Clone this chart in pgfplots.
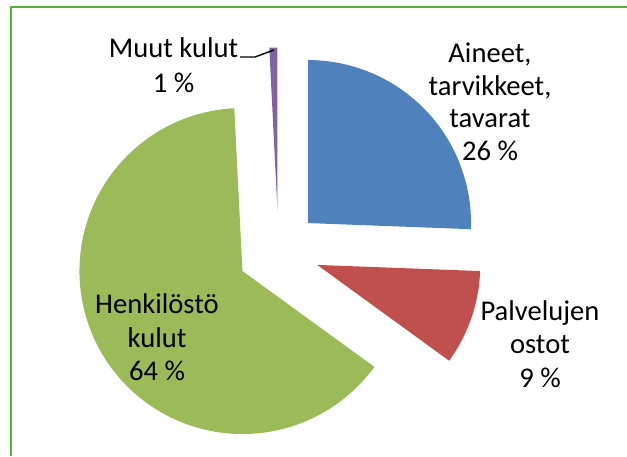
\documentclass[border=0pt]{standalone}
\usepackage{pgfplots}
\pgfplotsset{compat=1.18}
\usepackage{fontspec}
\setmainfont{Carlito}
\definecolor{cA}{RGB}{79,129,189}
\definecolor{cP}{RGB}{192,80,77}
\definecolor{cH}{RGB}{155,187,89}
\definecolor{cM}{RGB}{128,100,162}
\definecolor{frame}{RGB}{86,178,60}
\tikzset{lbl/.style={font=\fontsize{14.3}{17}\selectfont, inner sep=0pt, anchor=base, text=black}}
% shares of the pie (percent)
\def\pA{25.6}% Aineet, tarvikkeet, tavarat
\def\pP{9.4}%  Palvelujen ostot
\def\pH{64.2}% Henkilostokulut
\def\pM{0.8}%  Muut kulut
\def\cx{278.5}\def\cy{251.5}\def\ex{41}\def\rr{163}
\begin{document}
\begin{tikzpicture}
\pgfmathsetmacro{\aA}{0}
\pgfmathsetmacro{\bA}{\aA+3.6*\pA}
\pgfmathsetmacro{\aP}{\bA}
\pgfmathsetmacro{\bP}{\aP+3.6*\pP}
\pgfmathsetmacro{\aH}{\bP}
\pgfmathsetmacro{\bH}{\aH+3.6*\pH}
\pgfmathsetmacro{\aM}{\bH}
\pgfmathsetmacro{\bM}{\aM+3.6*\pM}
\pgfmathsetmacro{\vxA}{\cx+\ex*sin((\aA+\bA)/2)}
\pgfmathsetmacro{\vyA}{\cy-\ex*cos((\aA+\bA)/2)}
\pgfmathsetmacro{\vxP}{\cx+\ex*sin((\aP+\bP)/2)}
\pgfmathsetmacro{\vyP}{\cy-\ex*cos((\aP+\bP)/2)}
\pgfmathsetmacro{\vxH}{\cx+\ex*sin((\aH+\bH)/2)}
\pgfmathsetmacro{\vyH}{\cy-\ex*cos((\aH+\bH)/2)}
\pgfmathsetmacro{\vxM}{\cx+\ex*sin((\aM+\bM)/2)}
\pgfmathsetmacro{\vyM}{\cy-\ex*cos((\aM+\bM)/2)}
\begin{axis}[
  scale only axis, width=313.5pt, height=228pt,
  xmin=0, xmax=627, ymin=0, ymax=456, y dir=reverse,
  hide axis, clip=false,
]
\addplot[fill=cA, draw=none, domain=\aA:\bA, samples=90, variable=\t]
  ({\vxA+\rr*sin(\t)}, {\vyA-\rr*cos(\t)}) -- (axis cs:\vxA,\vyA) -- cycle;
\addplot[fill=cP, draw=none, domain=\aP:\bP, samples=60, variable=\t]
  ({\vxP+\rr*sin(\t)}, {\vyP-\rr*cos(\t)}) -- (axis cs:\vxP,\vyP) -- cycle;
\addplot[fill=cH, draw=none, domain=\aH:\bH, samples=180, variable=\t]
  ({\vxH+\rr*sin(\t)}, {\vyH-\rr*cos(\t)}) -- (axis cs:\vxH,\vyH) -- cycle;
\addplot[fill=cM, draw=none, domain=\aM:\bM, samples=10, variable=\t]
  ({\vxM+\rr*sin(\t)}, {\vyM-\rr*cos(\t)}) -- (axis cs:\vxM,\vyM) -- cycle;
% frame
\draw[frame, line width=1.2pt] (axis cs:11,456) -- (axis cs:11,7) -- (axis cs:627,7);
% labels
\node[lbl] at (axis cs:490,62) {Aineet,};
\node[lbl] at (axis cs:490,95) {tarvikkeet,};
\node[lbl] at (axis cs:490,127) {tavarat};
\node[lbl] at (axis cs:490,160) {26 \%};
\node[lbl] at (axis cs:540,320) {Palvelujen};
\node[lbl] at (axis cs:540,353) {ostot};
\node[lbl] at (axis cs:540,387) {9 \%};
\node[lbl] at (axis cs:157,313) {Henkilöstö};
\node[lbl] at (axis cs:157,347) {kulut};
\node[lbl] at (axis cs:157,380) {64 \%};
\node[lbl] at (axis cs:173.5,57) {Muut kulut};
\node[lbl] at (axis cs:173.5,92) {1 \%};
\draw[black, line width=0.7pt] (axis cs:240,57) -- (axis cs:255,57) -- (axis cs:274,50);
\end{axis}
\pgfresetboundingbox
\path (current axis.south west) rectangle (current axis.north east);
\end{tikzpicture}
\end{document}
